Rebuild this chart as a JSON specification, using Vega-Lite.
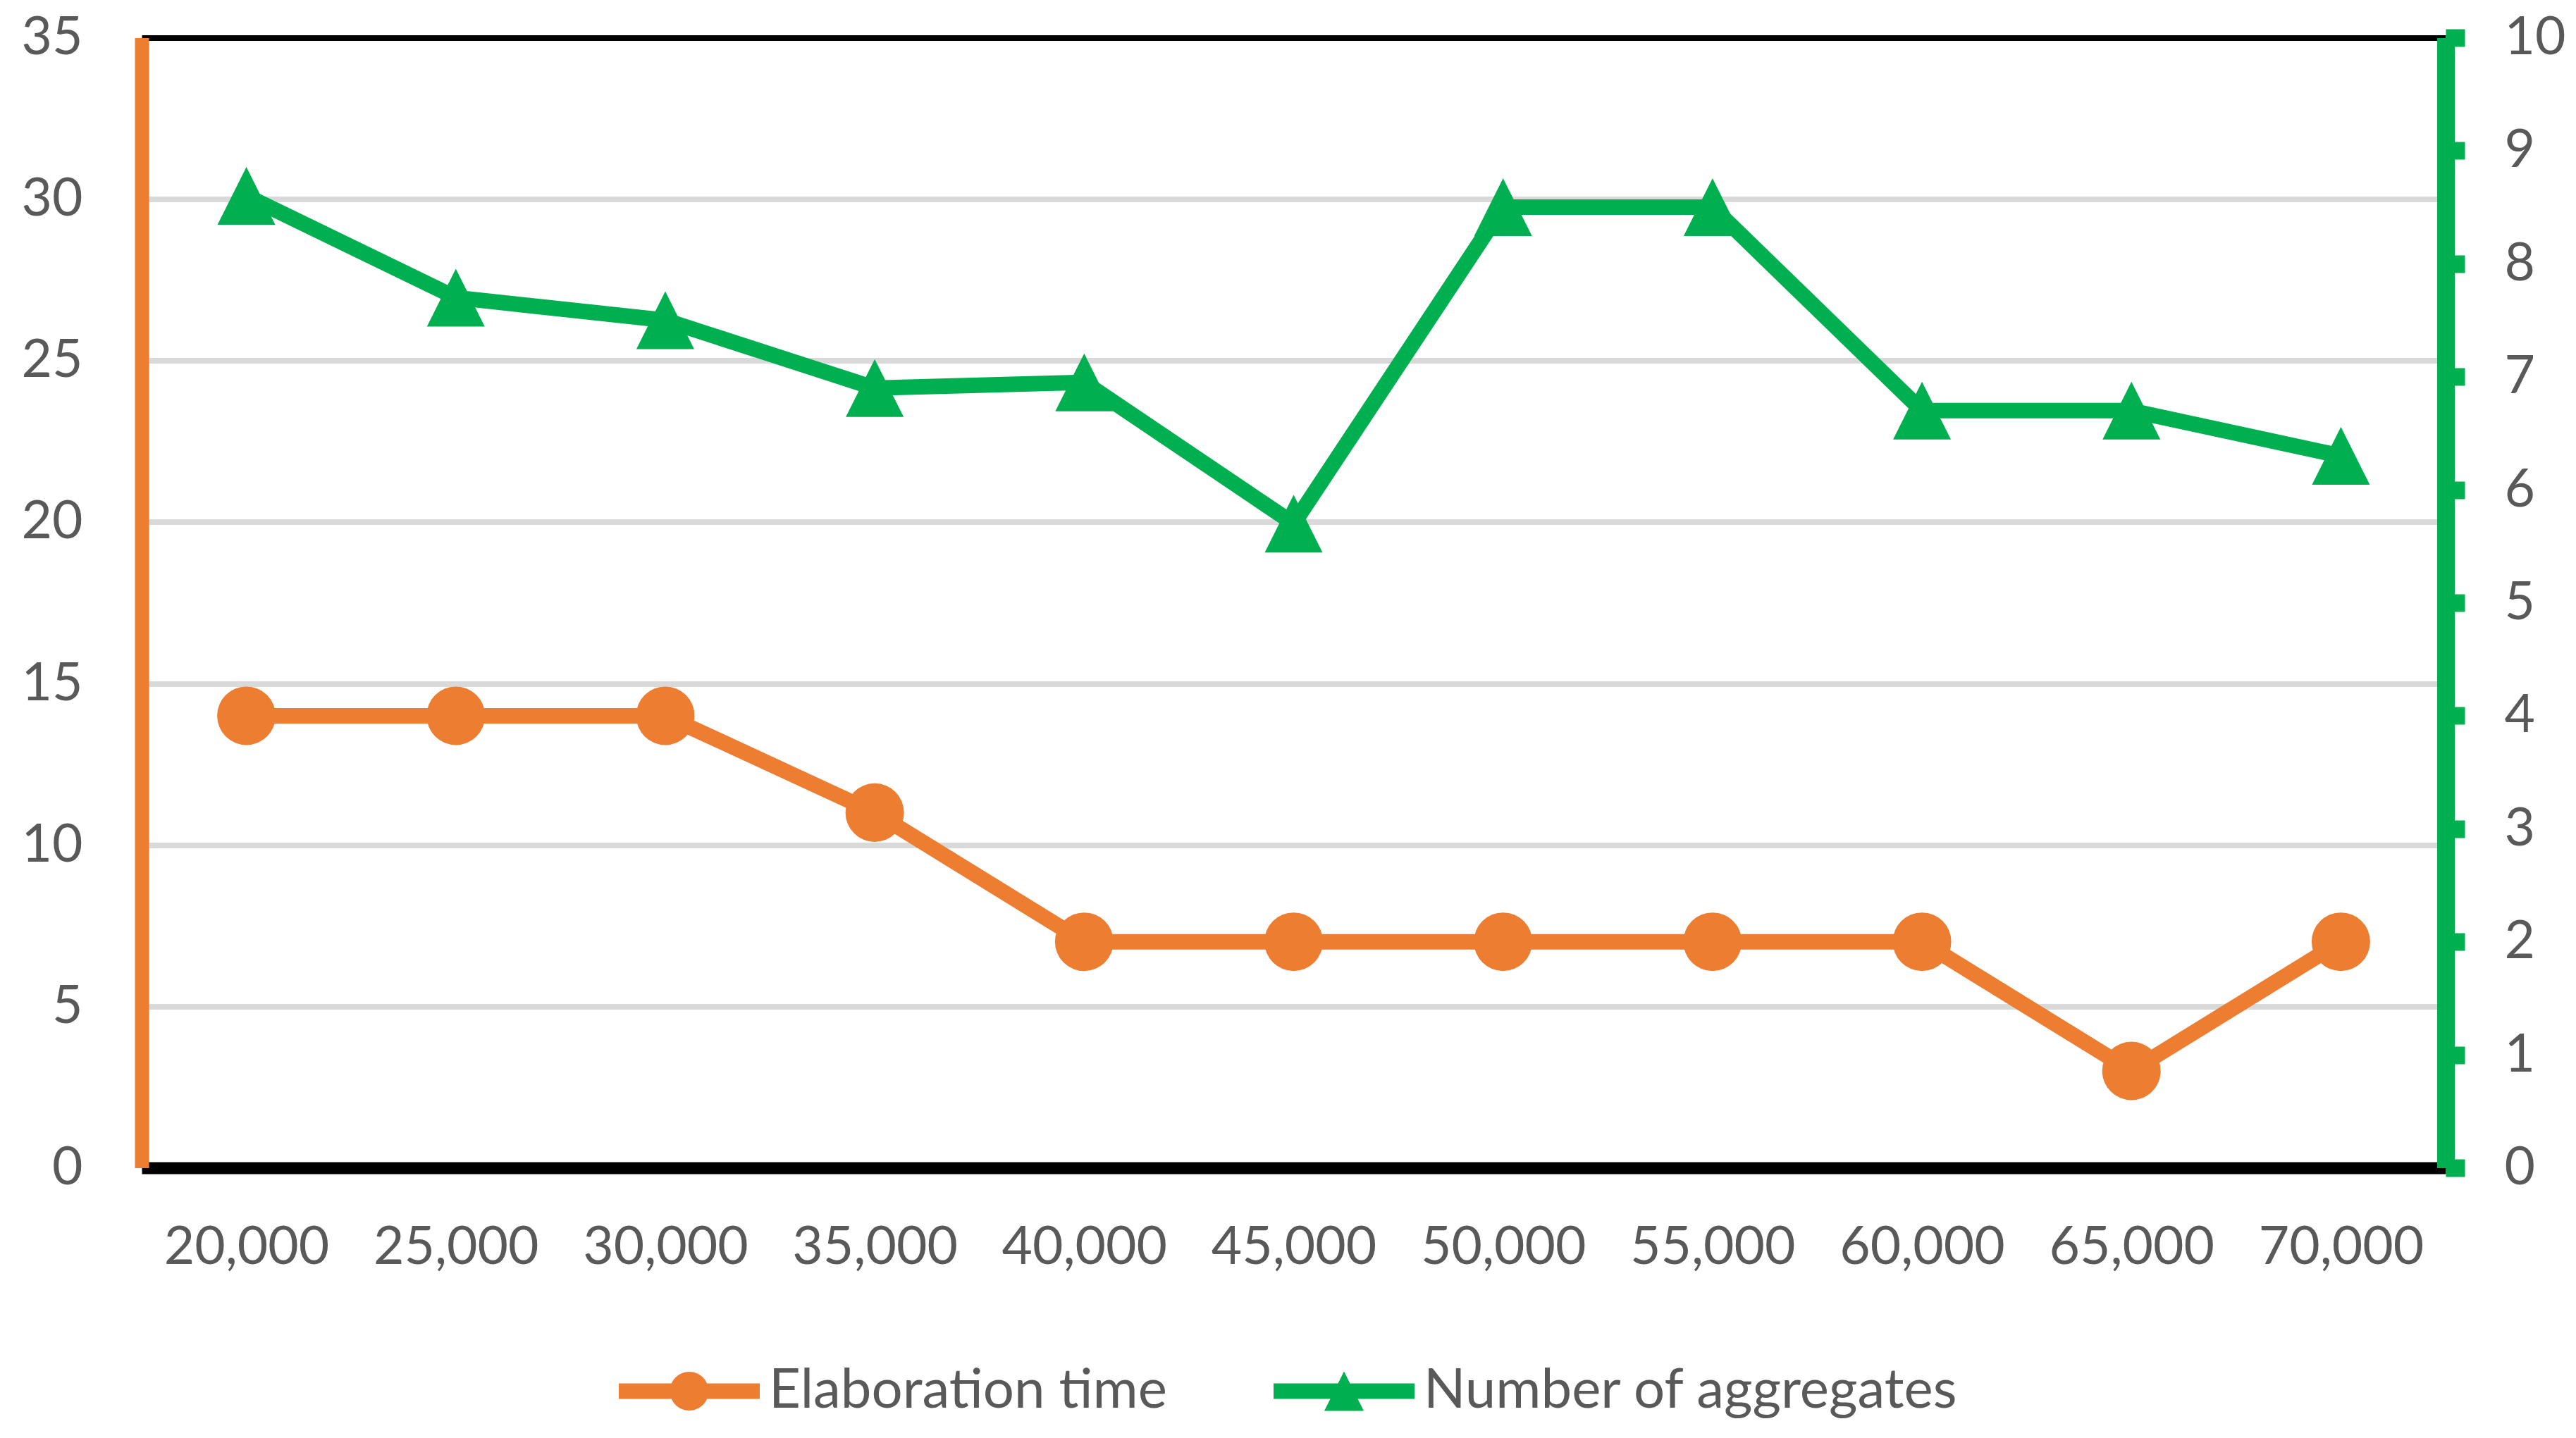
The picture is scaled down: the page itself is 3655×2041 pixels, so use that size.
{
  "$schema": "https://vega.github.io/schema/vega-lite/v6.json",
  "width": 3269,
  "height": 1604,
  "autosize": "none",
  "padding": {"left": 201, "top": 53.5, "right": 185, "bottom": 383.5},
  "background": "white",
  "config": {
    "view": {"stroke": null},
    "font": "Lato",
    "scale": {"pointPadding": 0.5}
  },
  "data": {
    "values": [
      {"n": 20000, "series": "Elaboration time", "value": 14},
      {"n": 25000, "series": "Elaboration time", "value": 14},
      {"n": 30000, "series": "Elaboration time", "value": 14},
      {"n": 35000, "series": "Elaboration time", "value": 11},
      {"n": 40000, "series": "Elaboration time", "value": 7},
      {"n": 45000, "series": "Elaboration time", "value": 7},
      {"n": 50000, "series": "Elaboration time", "value": 7},
      {"n": 55000, "series": "Elaboration time", "value": 7},
      {"n": 60000, "series": "Elaboration time", "value": 7},
      {"n": 65000, "series": "Elaboration time", "value": 3},
      {"n": 70000, "series": "Elaboration time", "value": 7},
      {"n": 20000, "series": "Number of aggregates", "value": 8.6},
      {"n": 25000, "series": "Number of aggregates", "value": 7.7},
      {"n": 30000, "series": "Number of aggregates", "value": 7.5},
      {"n": 35000, "series": "Number of aggregates", "value": 6.9},
      {"n": 40000, "series": "Number of aggregates", "value": 6.95},
      {"n": 45000, "series": "Number of aggregates", "value": 5.7},
      {"n": 50000, "series": "Number of aggregates", "value": 8.5},
      {"n": 55000, "series": "Number of aggregates", "value": 8.5},
      {"n": 60000, "series": "Number of aggregates", "value": 6.7},
      {"n": 65000, "series": "Number of aggregates", "value": 6.7},
      {"n": 70000, "series": "Number of aggregates", "value": 6.3}
    ]
  },
  "layer": [
    {
      "encoding": {
        "x": {
          "field": "n",
          "type": "ordinal",
          "axis": {
            "title": null,
            "labelAngle": 0,
            "formatType": "number",
            "format": ",",
            "labelFont": "Lato",
            "labelFontSize": 75,
            "labelColor": "#595959",
            "labelPadding": 77,
            "labelLimit": 1000,
            "labelOverlap": false,
            "ticks": false,
            "tickSize": 0,
            "domainColor": "#000000",
            "domainWidth": 17,
            "grid": false
          }
        },
        "y": {
          "field": "value",
          "type": "quantitative",
          "scale": {"domain": [0, 35], "nice": false, "zero": true},
          "axis": {
            "title": null,
            "orient": "left",
            "values": [0, 5, 10, 15, 20, 25, 30, 35],
            "labelFont": "Lato",
            "labelFontSize": 75,
            "labelColor": "#595959",
            "labelPadding": 84,
            "labelLimit": 1000,
            "ticks": false,
            "tickSize": 0,
            "domainColor": "#ED7D31",
            "domainWidth": 20,
            "grid": true,
            "gridColor": {"condition": {"test": "datum.value === 35", "value": "#000000"}, "value": "#D9D9D9"},
            "gridWidth": 8
          }
        }
      },
      "layer": [
        {
          "transform": [{"filter": "datum.series === 'Elaboration time'"}],
          "mark": {"type": "line", "color": "#ED7D31", "strokeWidth": 22, "strokeJoin": "round", "strokeCap": "round"}
        },
        {
          "transform": [{"filter": "datum.series === 'Elaboration time'"}],
          "mark": {"type": "point", "shape": "circle", "filled": true, "color": "#ED7D31", "opacity": 1, "size": 6889}
        },
        {
          "mark": {"type": "point", "filled": true, "opacity": 0},
          "encoding": {
            "color": {
              "field": "series",
              "type": "nominal",
              "scale": {"domain": ["Elaboration time", "Number of aggregates"], "range": ["#ED7D31", "#00B050"]},
              "legend": {
                "orient": "none",
                "legendX": 677,
                "legendY": 1821,
                "direction": "horizontal",
                "title": null,
                "labelFont": "Lato",
                "labelFontSize": 78,
                "labelColor": "#595959",
                "labelOffset": 13,
                "labelLimit": 2000,
                "columnPadding": 151,
                "padding": 0,
                "symbolSize": 40000,
                "symbolOpacity": 1,
                "symbolStrokeWidth": 0
              }
            },
            "shape": {
              "field": "series",
              "type": "nominal",
              "scale": {
                "domain": ["Elaboration time", "Number of aggregates"],
                "range": [
                  "M-1,-0.11L1,-0.11L1,0.11L-1,0.11Z M-0.275,0A0.275,0.275 0 1,1 0.275,0A0.275,0.275 0 1,1 -0.275,0Z",
                  "M-1,-0.11L1,-0.11L1,0.11L-1,0.11Z M0,-0.28L0.28,0.28L-0.28,0.28Z"
                ]
              },
              "legend": {
                "orient": "none",
                "legendX": 677,
                "legendY": 1821,
                "direction": "horizontal",
                "title": null,
                "labelFont": "Lato",
                "labelFontSize": 78,
                "labelColor": "#595959",
                "labelOffset": 13,
                "labelLimit": 2000,
                "columnPadding": 151,
                "padding": 0,
                "symbolSize": 40000,
                "symbolOpacity": 1,
                "symbolStrokeWidth": 0
              }
            }
          }
        }
      ]
    },
    {
      "encoding": {
        "x": {
          "field": "n",
          "type": "ordinal",
          "axis": {
            "title": null,
            "labelAngle": 0,
            "formatType": "number",
            "format": ",",
            "labelFont": "Lato",
            "labelFontSize": 75,
            "labelColor": "#595959",
            "labelPadding": 77,
            "labelLimit": 1000,
            "labelOverlap": false,
            "ticks": false,
            "tickSize": 0,
            "domainColor": "#000000",
            "domainWidth": 17,
            "grid": false
          }
        },
        "y": {
          "field": "value",
          "type": "quantitative",
          "scale": {"domain": [0, 10], "nice": false, "zero": true},
          "axis": {
            "title": null,
            "orient": "right",
            "values": [0, 1, 2, 3, 4, 5, 6, 7, 8, 9, 10],
            "labelFont": "Lato",
            "labelFontSize": 75,
            "labelColor": "#595959",
            "labelPadding": 56,
            "labelLimit": 1000,
            "ticks": true,
            "tickSize": 27,
            "tickWidth": 25,
            "tickColor": "#00B050",
            "domainColor": "#00B050",
            "domainWidth": 25,
            "grid": false
          }
        }
      },
      "layer": [
        {
          "transform": [{"filter": "datum.series === 'Number of aggregates'"}],
          "mark": {"type": "line", "color": "#00B050", "strokeWidth": 22, "strokeJoin": "round", "strokeCap": "round"}
        },
        {
          "transform": [{"filter": "datum.series === 'Number of aggregates'"}],
          "mark": {"type": "point", "shape": "M0,-1L1,1L-1,1Z", "filled": true, "color": "#00B050", "opacity": 1, "size": 6724}
        }
      ]
    }
  ],
  "resolve": {"scale": {"y": "independent"}}
}
